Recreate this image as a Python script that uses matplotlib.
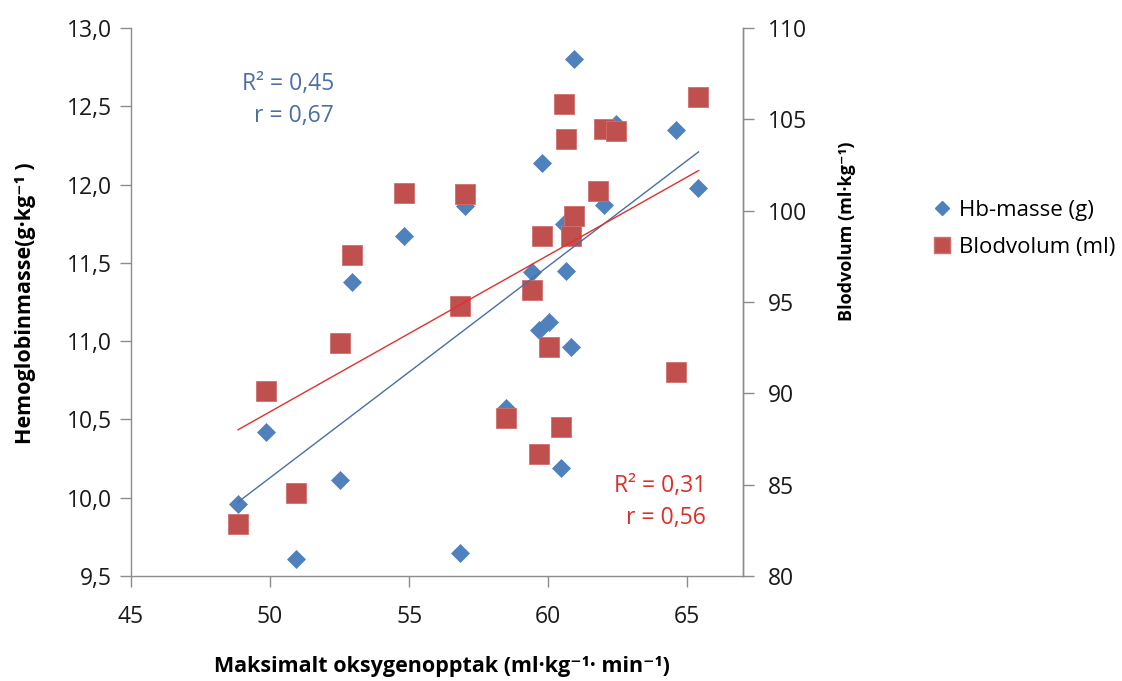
import numpy as np
import matplotlib
matplotlib.use("Agg")
import matplotlib.pyplot as plt
from matplotlib.ticker import FuncFormatter
from matplotlib.lines import Line2D

# ---- data ----
vo2max = [48.85, 49.86, 50.93, 52.53, 52.96, 54.80, 56.82, 57.00, 58.49, 59.40,
          59.65, 59.77, 60.03, 60.44, 60.55, 60.64, 60.80, 60.92, 61.78, 62.00,
          62.45, 64.58, 65.40]
hb_mass = [9.96, 10.42, 9.61, 10.11, 11.38, 11.67, 9.65, 11.86, 10.57, 11.44,
           11.07, 12.14, 11.12, 10.19, 11.75, 11.45, 10.96, 12.80, 11.96, 11.87,
           12.39, 12.35, 11.98]
blood_vol = [82.85, 90.13, 84.55, 92.76, 97.58, 100.97, 94.80, 100.91, 88.65, 95.66,
             86.68, 98.62, 92.54, 88.16, 105.84, 103.92, 98.62, 99.71, 101.08, 104.47,
             104.36, 91.17, 106.22]

x_ticks = [45, 50, 55, 60, 65]
left_ticks = [9.5, 10.0, 10.5, 11.0, 11.5, 12.0, 12.5, 13.0]
right_ticks = [80, 85, 90, 95, 100, 105, 110]

series_names = ["Hb-masse (g)", "Blodvolum (ml)"]
hb_stats = ["R² = 0,45", "r = 0,67"]
bv_stats = ["R² = 0,31", "r = 0,56"]

FONT = ["Open Sans", "DejaVu Sans"]
plt.rcParams["font.family"] = FONT

BLUE = "#4F81BD"
RED = "#C0504D"
BLUE_LINE = "#4A6FA5"
RED_LINE = "#E0302C"
BLUE_TXT = "#4A6FA5"
RED_TXT = "#D9302C"
AX_COL = "#8C8C8C"

fig = plt.figure(figsize=(11.22, 6.81), dpi=100)
ax = fig.add_axes([131/1122, 1-576/681, (743-131)/1122, (576-28)/681])
ax2 = ax.twinx()

x = np.array(vo2max)
hb = np.array(hb_mass)
bv = np.array(blood_vol)

ax.plot(x, hb, linestyle="none", marker="D", markersize=9.5,
        color=BLUE, markeredgecolor=BLUE, markeredgewidth=0.5, zorder=3)
ax2.plot(x, bv, linestyle="none", marker="s", markersize=14,
         color=RED, markeredgecolor="#D0706D", markeredgewidth=0.6, zorder=3)

# linear trendlines fitted to the data
xs = np.array([x.min(), x.max()])
pb = np.polyfit(x, hb, 1)
pr = np.polyfit(x, bv, 1)
ax2.plot(xs, np.polyval(pb, xs), color=BLUE_LINE, lw=1.0, transform=ax.transData, zorder=4)
ax2.plot(xs, np.polyval(pr, xs), color=RED_LINE, lw=1.0, zorder=4)

ax.set_xlim(45, 67)
ax.set_ylim(9.5, 13.0)
ax2.set_ylim(80, 110)

ax.set_xticks(x_ticks)
ax.set_yticks(left_ticks)
ax2.set_yticks(right_ticks)
ax.yaxis.set_major_formatter(FuncFormatter(lambda v, p: f"{v:.1f}".replace(".", ",")))
ax.xaxis.set_major_formatter(FuncFormatter(lambda v, p: f"{v:.0f}"))
ax2.yaxis.set_major_formatter(FuncFormatter(lambda v, p: f"{v:.0f}"))

for a in (ax, ax2):
    a.spines["top"].set_visible(False)
    for s in a.spines.values():
        s.set_color(AX_COL)
        s.set_linewidth(1.0)
    a.tick_params(length=8, width=1.0, color=AX_COL, labelsize=16.5, labelcolor="#1a1a1a", pad=6)
ax.tick_params(axis="x", pad=13)
ax2.tick_params(axis="y", pad=10)
ax2.spines["left"].set_visible(False)
ax2.spines["bottom"].set_visible(False)

ax.set_xlabel("Maksimalt oksygenopptak (ml·kg⁻¹· min⁻¹)", fontsize=15.5, fontweight="bold")
ax.xaxis.set_label_coords(0.508, -0.166)
ax.xaxis.label.set_va("center")
ax.set_ylabel("Hemoglobinmasse(g·kg⁻¹ )", fontsize=15.5, fontweight="bold")
ax.yaxis.set_label_coords(-0.173, 0.498)
ax.yaxis.label.set_va("center")
ax2.set_ylabel("Blodvolum (ml·kg⁻¹)", fontsize=13, fontweight="bold", rotation=90)
ax2.yaxis.set_label_coords(1.17, 0.630)
ax2.yaxis.label.set_va("center")

# stats annotations
ax.text(0.332, 0.898, hb_stats[0], transform=ax.transAxes, ha="right", va="center",
        fontsize=16.5, color=BLUE_TXT)
ax.text(0.332, 0.840, hb_stats[1], transform=ax.transAxes, ha="right", va="center",
        fontsize=16.5, color=BLUE_TXT)
ax.text(0.940, 0.164, bv_stats[0], transform=ax.transAxes, ha="right", va="center",
        fontsize=16.5, color=RED_TXT)
ax.text(0.940, 0.106, bv_stats[1], transform=ax.transAxes, ha="right", va="center",
        fontsize=16.5, color=RED_TXT)

handles = [
    Line2D([], [], linestyle="none", marker="D", markersize=7, color=BLUE, markeredgecolor=BLUE),
    Line2D([], [], linestyle="none", marker="s", markersize=11, color=RED, markeredgecolor="#D0706D"),
]
fig.legend(handles, series_names, loc="center left", bbox_to_anchor=(0.832, 1-229/681),
           frameon=False, fontsize=16, handlelength=0.8, handletextpad=0.35,
           labelspacing=0.7, borderaxespad=0, borderpad=0)

fig.savefig("out.png", dpi=100)
